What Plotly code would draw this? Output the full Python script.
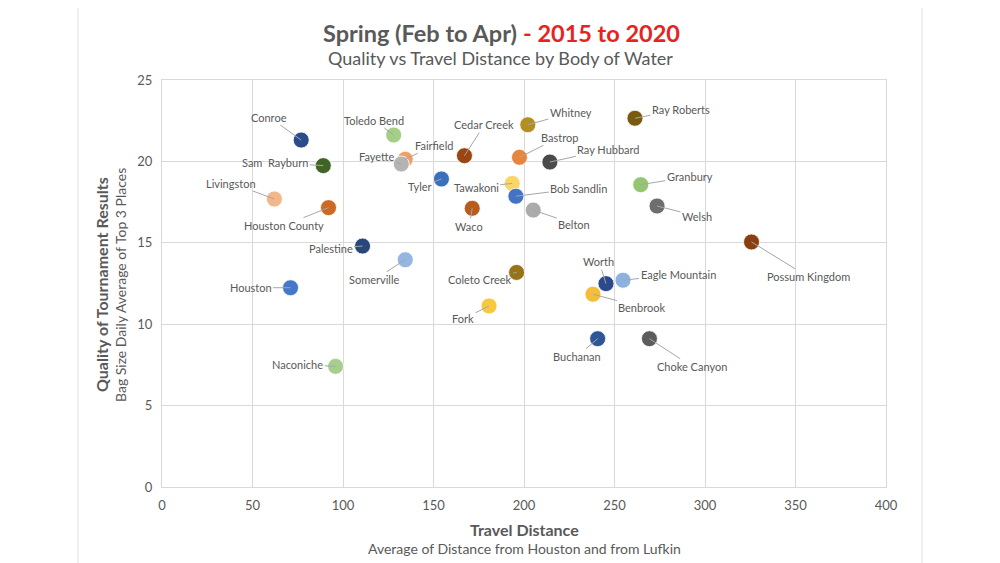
import plotly.graph_objects as go

# ---- data ----
lakes = ["Conroe", "Toledo Bend", "Cedar Creek", "Fairfield", "Fayette", "Sam  Rayburn",
         "Tyler", "Livingston", "Houston County", "Waco", "Whitney", "Ray Roberts",
         "Bastrop", "Ray Hubbard", "Tawakoni", "Bob Sandlin", "Belton", "Granbury",
         "Welsh", "Possum Kingdom", "Eagle Mountain", "Worth", "Palestine", "Somerville",
         "Houston", "Coleto Creek", "Fork", "Naconiche", "Benbrook", "Buchanan", "Choke Canyon"]
distance = [76.9, 128.0, 167.1, 134.4, 132.2, 89.1,
            154.4, 62.1, 92.0, 171.4, 202.1, 261.3,
            197.5, 214.3, 193.5, 195.5, 205.1, 264.5,
            273.5, 325.7, 254.7, 245.3, 110.8, 134.4,
            71.0, 195.9, 180.7, 95.9, 238.1, 240.7, 269.3]
quality = [21.31, 21.62, 20.35, 20.13, 19.84, 19.74,
           18.92, 17.69, 17.16, 17.12, 22.25, 22.65,
           20.25, 19.96, 18.65, 17.86, 17.01, 18.57,
           17.26, 15.05, 12.70, 12.49, 14.80, 13.96,
           12.24, 13.18, 11.12, 7.41, 11.84, 9.11, 9.11]

# ---- styles ----
colors = ["#2B4C8C", "#A3CF86", "#9A4612", "#F0A064", "#B4B4B4", "#3F6426",
          "#3A6FBC", "#F2B68A", "#CC6A24", "#B85C1E", "#B38F22", "#7A5A10",
          "#E8843E", "#4A4A4A", "#FBD566", "#4472C4", "#ABABAB", "#94C672",
          "#6E6E6E", "#8A3F10", "#8EB2E0", "#2A4A8C", "#28477A", "#93B7E2",
          "#4478C8", "#977418", "#F8C940", "#A6CF8D", "#F4BE38", "#2C5696", "#5C5C5C"]
# label offsets (pixels) relative to marker
label_dx = [-32, -20, 20, 29, -24, -48, -21, -43, -45, -3, 43, 46, 40, 59, -36, 63, 41, 49,
            40, 57, 55, -7, -32, -31, -40, -37, -26, -38, 49, -21, 43]
label_dy = [-23, -15, -31, -14, -8, -3, 8, -16, 18, 18, -12, -9, -20, -13, 4, -8, 14, -8,
            10, 35, -6, -22, 2, 20, 0, 7, 13, -2, 13, 18, 28]

GRAY = "#595959"
FONT = "Lato, Open Sans, sans-serif"

# page is rendered with an 8px body margin; geometry below is in page pixels
OFF = 8
PW, PH, L, T = 724, 407, 162, 80
FIG_W, FIG_H = 1000 - OFF, 563 - OFF


def px(xp):
    return (xp - L) / PW


def py(yp):
    return (T + PH - yp) / PH


fig = go.Figure()
fig.add_trace(go.Scatter(
    x=distance, y=quality, mode="markers", text=lakes,
    marker=dict(size=16, color=colors, line=dict(color="rgba(255,255,255,0.8)", width=1)),
    hovertemplate="%{text}<br>%{x}, %{y}<extra></extra>", showlegend=False))

annotations = []
for name, xv, yv, dx, dy in zip(lakes, distance, quality, label_dx, label_dy):
    annotations.append(dict(
        x=xv, y=yv, xref="x", yref="y", text=name, showarrow=True,
        ax=dx, ay=dy, arrowhead=0, arrowwidth=1, arrowcolor="#A6A6A6", standoff=0,
        font=dict(family=FONT, size=11, color=GRAY)))

common = dict(xref="paper", yref="paper", showarrow=False, xanchor="center", yanchor="middle")
annotations += [
    dict(x=px(501), y=py(33), **common,
         text="<b>Spring (Feb to Apr)</b> <b><span style='color:#E8231F'>- 2015 to 2020</span></b>",
         font=dict(family=FONT, size=23.5, color=GRAY)),
    dict(x=px(500), y=py(58), **common,
         text="Quality vs Travel Distance by Body of Water",
         font=dict(family=FONT, size=18, color=GRAY)),
    dict(x=px(524), y=py(529), **common,
         text="<b>Travel Distance</b>", font=dict(family=FONT, size=16, color=GRAY)),
    dict(x=px(524), y=py(548), **common,
         text="Average of Distance from Houston and from Lufkin",
         font=dict(family=FONT, size=14, color=GRAY)),
    dict(x=px(101), y=py(285), textangle=-90, **common,
         text="<b>Quality of Tournament Results</b>", font=dict(family=FONT, size=16, color=GRAY)),
    dict(x=px(120), y=py(285), textangle=-90, **common,
         text="Bag Size Daily Average of Top 3 Places", font=dict(family=FONT, size=14, color=GRAY)),
]

shapes = [
    # chart card border
    dict(type="rect", xref="paper", yref="paper", x0=px(78), x1=px(922), y0=py(580), y1=py(6),
         fillcolor="rgba(0,0,0,0)", line=dict(color="#E2E2E2", width=1), layer="below"),
    # window edge strip on the right
    dict(type="rect", xref="paper", yref="paper", x0=px(995), x1=px(1002), y0=py(570), y1=py(0),
         fillcolor="#E6E6EA", line=dict(width=0), layer="below"),
]

fig.update_layout(
    width=FIG_W, height=FIG_H,
    margin=dict(l=L - OFF, r=FIG_W - (L - OFF) - PW, t=T - OFF, b=FIG_H - (T - OFF) - PH),
    paper_bgcolor="white", plot_bgcolor="white",
    font=dict(family=FONT, color=GRAY),
    annotations=annotations, shapes=shapes,
    xaxis=dict(range=[0, 400], dtick=50, tick0=0, showgrid=True, gridcolor="#D9D9D9",
               gridwidth=1, zeroline=False, showline=True, linecolor="#D9D9D9", mirror=True,
               ticks="", ticklabelstandoff=6,
               tickfont=dict(size=13, color=GRAY, family=FONT), fixedrange=True),
    yaxis=dict(range=[0, 25], dtick=5, tick0=0, showgrid=True, gridcolor="#D9D9D9",
               gridwidth=1, zeroline=False, showline=True, linecolor="#D9D9D9", mirror=True,
               ticks="", ticklabelstandoff=6,
               tickfont=dict(size=13, color=GRAY, family=FONT), fixedrange=True),
)

fig.write_html("out.html")
